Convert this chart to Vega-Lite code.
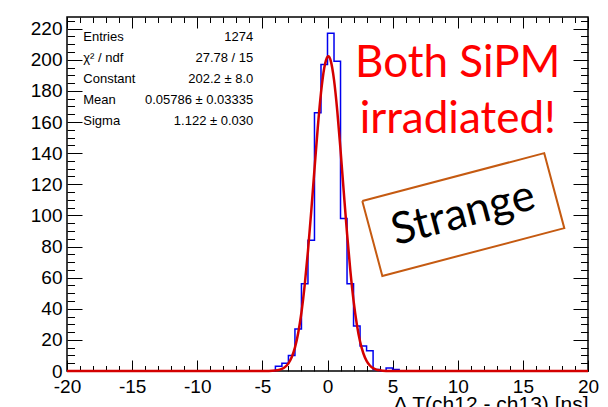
{
  "$schema": "https://vega.github.io/schema/vega-lite/v6.json",
  "width": 521,
  "height": 354,
  "autosize": {"type": "none"},
  "padding": {"left": 67, "top": 17, "right": 20, "bottom": 36},
  "background": "white",
  "config": {"view": {"stroke": "black", "strokeWidth": 1.5}, "font": "Liberation Sans"},
  "datasets": {
    "hist": [
      {"x": -20, "c": 0}, {"x": -19.5, "c": 0}, {"x": -19, "c": 0}, {"x": -18.5, "c": 0},
      {"x": -18, "c": 0}, {"x": -17.5, "c": 0}, {"x": -17, "c": 0}, {"x": -16.5, "c": 0},
      {"x": -16, "c": 0}, {"x": -15.5, "c": 0}, {"x": -15, "c": 0}, {"x": -14.5, "c": 0},
      {"x": -14, "c": 0}, {"x": -13.5, "c": 0}, {"x": -13, "c": 0}, {"x": -12.5, "c": 0},
      {"x": -12, "c": 0}, {"x": -11.5, "c": 0}, {"x": -11, "c": 0}, {"x": -10.5, "c": 0},
      {"x": -10, "c": 0}, {"x": -9.5, "c": 0}, {"x": -9, "c": 0}, {"x": -8.5, "c": 0},
      {"x": -8, "c": 0}, {"x": -7.5, "c": 0}, {"x": -7, "c": 0}, {"x": -6.5, "c": 0},
      {"x": -6, "c": 0}, {"x": -5.5, "c": 0}, {"x": -5, "c": 0}, {"x": -4.5, "c": 0},
      {"x": -4, "c": 3}, {"x": -3.5, "c": 5}, {"x": -3, "c": 10}, {"x": -2.5, "c": 27},
      {"x": -2, "c": 56}, {"x": -1.5, "c": 84}, {"x": -1, "c": 166}, {"x": -0.5, "c": 197},
      {"x": 0, "c": 217}, {"x": 0.5, "c": 199}, {"x": 1, "c": 98}, {"x": 1.5, "c": 56},
      {"x": 2, "c": 29}, {"x": 2.5, "c": 16}, {"x": 3, "c": 13}, {"x": 3.5, "c": 1},
      {"x": 4, "c": 0}, {"x": 4.5, "c": 2}, {"x": 5, "c": 1}, {"x": 5.5, "c": 0},
      {"x": 6, "c": 0}, {"x": 6.5, "c": 0}, {"x": 7, "c": 0}, {"x": 7.5, "c": 0},
      {"x": 8, "c": 0}, {"x": 8.5, "c": 0}, {"x": 9, "c": 0}, {"x": 9.5, "c": 0},
      {"x": 10, "c": 0}, {"x": 10.5, "c": 0}, {"x": 11, "c": 0}, {"x": 11.5, "c": 0},
      {"x": 12, "c": 0}, {"x": 12.5, "c": 0}, {"x": 13, "c": 0}, {"x": 13.5, "c": 0},
      {"x": 14, "c": 0}, {"x": 14.5, "c": 0}, {"x": 15, "c": 0}, {"x": 15.5, "c": 0},
      {"x": 16, "c": 0}, {"x": 16.5, "c": 0}, {"x": 17, "c": 0}, {"x": 17.5, "c": 0},
      {"x": 18, "c": 0}, {"x": 18.5, "c": 0}, {"x": 19, "c": 0}, {"x": 19.5, "c": 0},
      {"x": 20, "c": 0}
    ],
    "fit": [
      {"x": -20, "f": 0}, {"x": -6, "f": 0}, {"x": -4.5, "f": 0.05}, {"x": -4, "f": 0.29},
      {"x": -3.75, "f": 0.64}, {"x": -3.5, "f": 1.32}, {"x": -3.25, "f": 2.62}, {"x": -3, "f": 4.93},
      {"x": -2.75, "f": 8.82}, {"x": -2.5, "f": 15.0}, {"x": -2.25, "f": 24.4}, {"x": -2, "f": 37.6},
      {"x": -1.75, "f": 55.2}, {"x": -1.5, "f": 77.1}, {"x": -1.25, "f": 102.5}, {"x": -1, "f": 129.6},
      {"x": -0.75, "f": 156.1}, {"x": -0.5, "f": 178.7}, {"x": -0.25, "f": 194.7}, {"x": 0, "f": 201.9},
      {"x": 0.058, "f": 202.2}, {"x": 0.25, "f": 199.3}, {"x": 0.5, "f": 187.1}, {"x": 0.75, "f": 167.2},
      {"x": 1, "f": 142.1}, {"x": 1.25, "f": 114.9}, {"x": 1.5, "f": 88.5}, {"x": 1.75, "f": 64.8},
      {"x": 2, "f": 45.2}, {"x": 2.25, "f": 30.0}, {"x": 2.5, "f": 18.9}, {"x": 2.75, "f": 11.4},
      {"x": 3, "f": 6.5}, {"x": 3.25, "f": 3.53}, {"x": 3.5, "f": 1.83}, {"x": 3.75, "f": 0.9},
      {"x": 4, "f": 0.42}, {"x": 4.5, "f": 0.07}, {"x": 6, "f": 0}, {"x": 20, "f": 0}
    ],
    "stats": [
      {"name": "Entries", "val": "1274", "xl": -18.75, "xr": -5.7, "y": 211.8},
      {"name": "χ² / ndf", "val": "27.78 / 15", "xl": -18.75, "xr": -5.7, "y": 198.4},
      {"name": "Constant", "val": "202.2 ± 8.0", "xl": -18.75, "xr": -5.7, "y": 185.0},
      {"name": "Mean", "val": "0.05786 ± 0.03335", "xl": -18.75, "xr": -5.7, "y": 171.6},
      {"name": "Sigma", "val": "1.122 ± 0.030", "xl": -18.75, "xr": -5.7, "y": 158.2}
    ],
    "notes": [
      {"t": "Both SiPM", "x": 10, "y": 189.1},
      {"t": "irradiated!", "x": 10, "y": 153.1}
    ],
    "box": [
      {"i": 0, "x": 2.67, "y": 109.3},
      {"i": 1, "x": 16.64, "y": 140.0},
      {"i": 2, "x": 18.18, "y": 91.8},
      {"i": 3, "x": 4.21, "y": 61.1},
      {"i": 4, "x": 2.67, "y": 109.3}
    ],
    "strange": [{"t": "Strange", "x": 10.42, "y": 100.8}]
  },
  "layer": [
    {
      "data": {"name": "hist"},
      "mark": {"type": "line", "interpolate": "step-after", "color": "#0000ee", "strokeWidth": 1.5},
      "encoding": {
        "x": {
          "field": "x", "type": "quantitative",
          "scale": {"domain": [-20, 20], "nice": false, "zero": false},
          "axis": {
            "orient": "bottom",
            "values": [-20,-19,-18,-17,-16,-15,-14,-13,-12,-11,-10,-9,-8,-7,-6,-5,-4,-3,-2,-1,0,1,2,3,4,5,6,7,8,9,10,11,12,13,14,15,16,17,18,19,20],
            "domain": false, "grid": false,
            "tickColor": "black", "tickWidth": 1,
            "tickSize": {"condition": {"test": "datum.value % 5 === 0", "value": -11}, "value": -5.5},
            "labelExpr": "datum.value % 5 === 0 ? '' + datum.value : ''",
            "labelFont": "Liberation Sans", "labelFontSize": 19, "labelColor": "black",
            "labelPadding": 17, "labelOverlap": false, "labelFlush": false,
            "title": "Δ T(ch12 - ch13) [ns]",
            "titleFont": "Liberation Sans", "titleFontSize": 21, "titleFontWeight": "normal", "titleColor": "black",
            "titleAnchor": "end", "titleAlign": "right", "titleBaseline": "alphabetic",
            "titleX": 521, "titleY": 39
          }
        },
        "y": {
          "field": "c", "type": "quantitative",
          "scale": {"domain": [0, 227.5], "nice": false},
          "axis": {
            "orient": "left",
            "values": [0,5,10,15,20,25,30,35,40,45,50,55,60,65,70,75,80,85,90,95,100,105,110,115,120,125,130,135,140,145,150,155,160,165,170,175,180,185,190,195,200,205,210,215,220,225],
            "domain": false, "grid": false,
            "tickColor": "black", "tickWidth": 1,
            "tickSize": {"condition": {"test": "datum.value % 20 === 0", "value": -15}, "value": -7.5},
            "labelExpr": "datum.value % 20 === 0 ? datum.label : ''",
            "labelFont": "Liberation Sans", "labelFontSize": 19, "labelColor": "black",
            "labelPadding": 20, "labelOverlap": false, "labelFlush": false,
            "title": null
          }
        }
      }
    },
    {
      "data": {"name": "fit"},
      "mark": {"type": "line", "interpolate": "monotone", "color": "#d40000", "strokeWidth": 2.5},
      "encoding": {
        "x": {
          "field": "x", "type": "quantitative",
          "scale": {"domain": [-20, 20], "nice": false, "zero": false},
          "axis": {
            "orient": "top",
            "values": [-20,-19,-18,-17,-16,-15,-14,-13,-12,-11,-10,-9,-8,-7,-6,-5,-4,-3,-2,-1,0,1,2,3,4,5,6,7,8,9,10,11,12,13,14,15,16,17,18,19,20],
            "domain": false, "grid": false, "labels": false, "title": null,
            "tickColor": "black", "tickWidth": 1,
            "tickSize": {"condition": {"test": "datum.value % 5 === 0", "value": -11}, "value": -5.5}
          }
        },
        "y": {
          "field": "f", "type": "quantitative",
          "scale": {"domain": [0, 227.5], "nice": false},
          "axis": {
            "orient": "right",
            "values": [0,5,10,15,20,25,30,35,40,45,50,55,60,65,70,75,80,85,90,95,100,105,110,115,120,125,130,135,140,145,150,155,160,165,170,175,180,185,190,195,200,205,210,215,220,225],
            "domain": false, "grid": false, "labels": false, "title": null,
            "tickColor": "black", "tickWidth": 1,
            "tickSize": {"condition": {"test": "datum.value % 20 === 0", "value": -15}, "value": -7.5}
          }
        }
      }
    },
    {
      "data": {"name": "stats"},
      "mark": {"type": "text", "align": "left", "baseline": "alphabetic", "font": "Liberation Sans", "fontSize": 13, "color": "black"},
      "encoding": {
        "x": {"field": "xl", "type": "quantitative", "axis": null},
        "y": {"field": "y", "type": "quantitative", "axis": null},
        "text": {"field": "name"}
      }
    },
    {
      "data": {"name": "stats"},
      "mark": {"type": "text", "align": "right", "baseline": "alphabetic", "font": "Liberation Sans", "fontSize": 13, "color": "black"},
      "encoding": {
        "x": {"field": "xr", "type": "quantitative", "axis": null},
        "y": {"field": "y", "type": "quantitative", "axis": null},
        "text": {"field": "val"}
      }
    },
    {
      "data": {"name": "notes"},
      "mark": {"type": "text", "align": "center", "baseline": "alphabetic", "font": "Lato", "fontSize": 44, "color": "#ff0000"},
      "encoding": {
        "x": {"field": "x", "type": "quantitative", "axis": null},
        "y": {"field": "y", "type": "quantitative", "axis": null},
        "text": {"field": "t"}
      }
    },
    {
      "data": {"name": "box"},
      "mark": {"type": "line", "color": "#c55a11", "strokeWidth": 2},
      "encoding": {
        "x": {"field": "x", "type": "quantitative", "axis": null},
        "y": {"field": "y", "type": "quantitative", "axis": null},
        "order": {"field": "i", "type": "quantitative"}
      }
    },
    {
      "data": {"name": "strange"},
      "mark": {"type": "text", "align": "center", "baseline": "middle", "font": "Lato", "fontSize": 44, "angle": 345.3, "color": "black"},
      "encoding": {
        "x": {"field": "x", "type": "quantitative", "axis": null},
        "y": {"field": "y", "type": "quantitative", "axis": null},
        "text": {"field": "t"}
      }
    }
  ],
  "resolve": {"axis": {"x": "independent", "y": "independent"}}
}
